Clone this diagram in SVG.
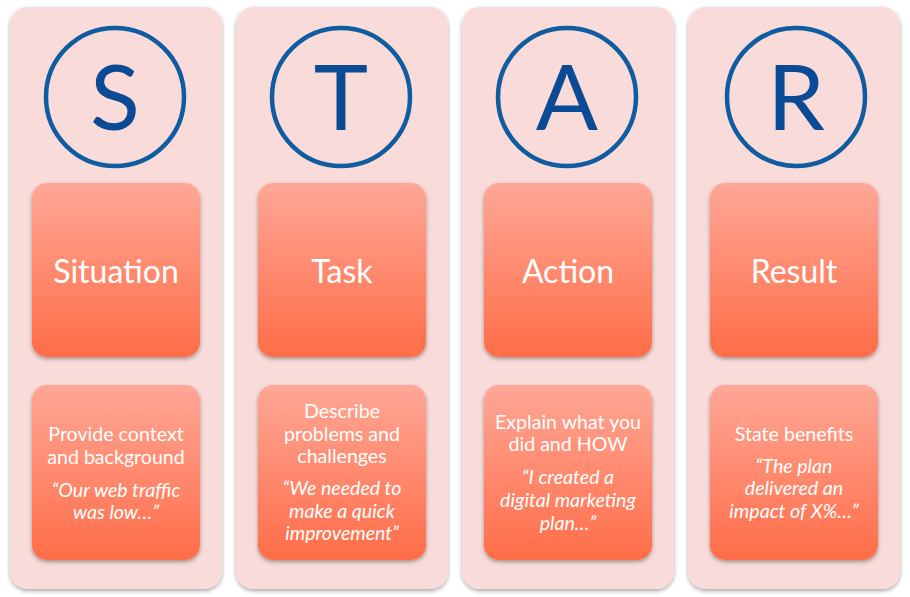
<svg xmlns="http://www.w3.org/2000/svg" width="910" height="597" viewBox="0 0 910 597">
<defs>
<linearGradient id="g" x1="0" y1="0" x2="0" y2="1">
<stop offset="0" stop-color="#FFA796"/>
<stop offset="1" stop-color="#FF6D48"/>
</linearGradient>
<filter id="sh" x="-10%" y="-10%" width="120%" height="125%">
<feGaussianBlur in="SourceAlpha" stdDeviation="2"/>
<feOffset dy="2" result="b"/>
<feComponentTransfer><feFuncA type="linear" slope="0.35"/></feComponentTransfer>
<feMerge><feMergeNode/><feMergeNode in="SourceGraphic"/></feMerge>
</filter>
</defs>
<style>
.col{fill:#F9DCDA;filter:url(#sh)}
.box{fill:url(#g);filter:url(#sh)}
.ring{fill:none;stroke:#0F5CA0;stroke-width:4.5}
.let{font-family:Lato,"Open Sans",sans-serif;font-size:92px;fill:#0B4A94;text-anchor:middle}
.head{font-family:Lato,"Open Sans",sans-serif;font-size:32px;fill:#fff;text-anchor:middle}
.t{font-family:Lato,"Open Sans",sans-serif;font-size:19.6px;fill:#fff;text-anchor:middle}
.q{font-style:italic}
</style>
<rect width="910" height="597" fill="#fff"/>
<g id="situation">
<rect class="col" x="10" y="7" width="212" height="582" rx="18"/>
<circle class="ring" cx="115" cy="97" r="69"/>
<text class="let" x="115" y="130">S</text>
<rect class="box" x="32" y="183" width="168" height="174" rx="15"/>
<text class="head" x="116" y="283">Situation</text>
<rect class="box" x="32" y="385" width="168" height="175" rx="15"/>
<text class="t" x="116" y="441">Provide context</text>
<text class="t" x="116" y="464">and background</text>
<text class="t q" x="116" y="497">“Our web traffic</text>
<text class="t q" x="116" y="519">was low…”</text>
</g>
<g id="task">
<rect class="col" x="236" y="7" width="212" height="582" rx="18"/>
<circle class="ring" cx="341" cy="97" r="69"/>
<text class="let" x="341" y="130">T</text>
<rect class="box" x="258" y="183" width="168" height="174" rx="15"/>
<text class="head" x="342" y="283">Task</text>
<rect class="box" x="258" y="385" width="168" height="175" rx="15"/>
<text class="t" x="342" y="418">Describe</text>
<text class="t" x="342" y="441">problems and</text>
<text class="t" x="342" y="463">challenges</text>
<text class="t q" x="342" y="495">“We needed to</text>
<text class="t q" x="342" y="518">make a quick</text>
<text class="t q" x="342" y="540">improvement”</text>
</g>
<g id="action">
<rect class="col" x="462" y="7" width="212" height="582" rx="18"/>
<circle class="ring" cx="567" cy="97" r="69"/>
<text class="let" x="567" y="130">A</text>
<rect class="box" x="484" y="183" width="168" height="174" rx="15"/>
<text class="head" x="568" y="283">Action</text>
<rect class="box" x="484" y="385" width="168" height="175" rx="15"/>
<text class="t" x="568" y="429">Explain what you</text>
<text class="t" x="568" y="451">did and HOW</text>
<text class="t q" x="568" y="484">“I created a</text>
<text class="t q" x="568" y="507">digital marketing</text>
<text class="t q" x="568" y="530">plan…”</text>
</g>
<g id="result">
<rect class="col" x="688" y="7" width="212" height="582" rx="18"/>
<circle class="ring" cx="796" cy="97" r="69"/>
<text class="let" x="796" y="130">R</text>
<rect class="box" x="710" y="183" width="168" height="174" rx="15"/>
<text class="head" x="794" y="283">Result</text>
<rect class="box" x="710" y="385" width="168" height="175" rx="15"/>
<text class="t" x="794" y="441">State benefits</text>
<text class="t q" x="794" y="473">“The plan</text>
<text class="t q" x="794" y="495">delivered an</text>
<text class="t q" x="794" y="518">impact of X%…”</text>
</g>
<g id="connectors"></g>
</svg>
